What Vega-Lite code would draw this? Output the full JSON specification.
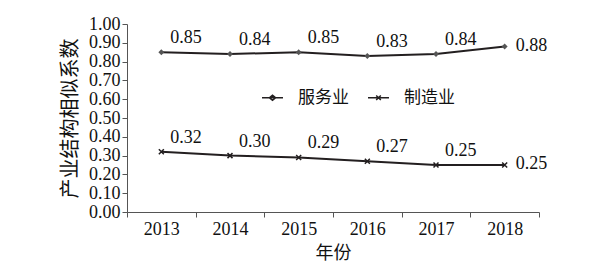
{
  "$schema": "https://vega.github.io/schema/vega-lite/v6.json",
  "width": 412,
  "height": 188,
  "autosize": {"type": "none"},
  "padding": {"left": 127, "top": 24, "right": 50, "bottom": 63},
  "background": "white",
  "config": {"view": {"stroke": null}, "font": "Liberation Serif"},
  "data": {
    "values": [
      {"year": "2013", "series": "服务业", "value": 0.85},
      {"year": "2014", "series": "服务业", "value": 0.84},
      {"year": "2015", "series": "服务业", "value": 0.85},
      {"year": "2016", "series": "服务业", "value": 0.83},
      {"year": "2017", "series": "服务业", "value": 0.84},
      {"year": "2018", "series": "服务业", "value": 0.88},
      {"year": "2013", "series": "制造业", "value": 0.32},
      {"year": "2014", "series": "制造业", "value": 0.30},
      {"year": "2015", "series": "制造业", "value": 0.29},
      {"year": "2016", "series": "制造业", "value": 0.27},
      {"year": "2017", "series": "制造业", "value": 0.25},
      {"year": "2018", "series": "制造业", "value": 0.25}
    ]
  },
  "encoding": {
    "x": {
      "field": "year",
      "type": "ordinal",
      "bandPosition": 0.5,
      "scale": {"type": "band", "paddingInner": 0, "paddingOuter": 0},
      "axis": {
        "title": "年份",
        "labelAngle": 0,
        "tickBand": "extent",
        "tickSize": 5,
        "tickColor": "#555",
        "domainColor": "#555",
        "labelFont": "Liberation Serif",
        "labelFontSize": 18,
        "labelColor": "#111",
        "labelPadding": 3,
        "titleFont": "Noto Sans CJK SC",
        "titleFontSize": 18,
        "titleFontWeight": "normal",
        "titleColor": "#111",
        "titlePadding": 6
      }
    },
    "y": {
      "field": "value",
      "type": "quantitative",
      "scale": {"domain": [0, 1]},
      "axis": {
        "title": "产业结构相似系数",
        "values": [0, 0.1, 0.2, 0.3, 0.4, 0.5, 0.6, 0.7, 0.8, 0.9, 1.0],
        "format": ".2f",
        "grid": false,
        "tickSize": 5,
        "tickColor": "#555",
        "domainColor": "#555",
        "labelFont": "Liberation Serif",
        "labelFontSize": 18,
        "labelColor": "#111",
        "labelPadding": 2,
        "titleFont": "Noto Sans CJK SC",
        "titleFontSize": 20,
        "titleFontWeight": "normal",
        "titleColor": "#111",
        "titlePadding": 8
      }
    }
  },
  "layer": [
    {
      "mark": {"type": "line", "color": "#231f20", "strokeWidth": 2},
      "encoding": {"detail": {"field": "series", "type": "nominal"}}
    },
    {
      "transform": [{"filter": "datum.series == '服务业'"}],
      "mark": {"type": "point", "shape": "diamond", "filled": true, "color": "#555", "size": 35, "opacity": 1}
    },
    {
      "transform": [{"filter": "datum.series == '制造业'"}],
      "mark": {"type": "point", "shape": "M-1,-1L1,1M-1,1L1,-1", "filled": false, "color": "#231f20", "strokeWidth": 1.5, "size": 25, "opacity": 1}
    },
    {
      "transform": [{"filter": "datum.year != '2018'"}],
      "mark": {"type": "text", "align": "left", "baseline": "bottom", "dx": 9, "dy": -5, "font": "Liberation Serif", "fontSize": 18, "color": "#111"},
      "encoding": {"text": {"field": "value", "type": "quantitative", "format": ".2f"}}
    },
    {
      "transform": [{"filter": "datum.year == '2018'"}],
      "mark": {"type": "text", "align": "left", "baseline": "middle", "dx": 11, "dy": -1, "font": "Liberation Serif", "fontSize": 18, "color": "#111"},
      "encoding": {"text": {"field": "value", "type": "quantitative", "format": ".2f"}}
    },
    {
      "transform": [{"filter": "datum.value < 0"}],
      "mark": {"type": "point", "filled": false, "color": "#231f20", "opacity": 1},
      "encoding": {
        "shape": {
          "field": "series",
          "type": "nominal",
          "scale": {
            "domain": ["服务业", "制造业"],
            "range": ["M-1,0H1M-0.3,0L0,-0.25L0.3,0L0,0.25Z", "M-1,0H1M-0.22,-0.22L0.22,0.22M-0.22,0.22L0.22,-0.22"]
          },
          "legend": {
            "orient": "none",
            "legendX": 134,
            "legendY": 62,
            "direction": "horizontal",
            "title": null,
            "padding": 0,
            "symbolSize": 440,
            "symbolOpacity": 1,
            "symbolStrokeColor": "#231f20",
            "symbolFillColor": "#555",
            "symbolStrokeWidth": 1.5,
            "labelFont": "Noto Sans CJK SC",
            "labelFontSize": 17,
            "labelColor": "#111",
            "labelOffset": 14,
            "columnPadding": 16
          }
        }
      }
    }
  ]
}
